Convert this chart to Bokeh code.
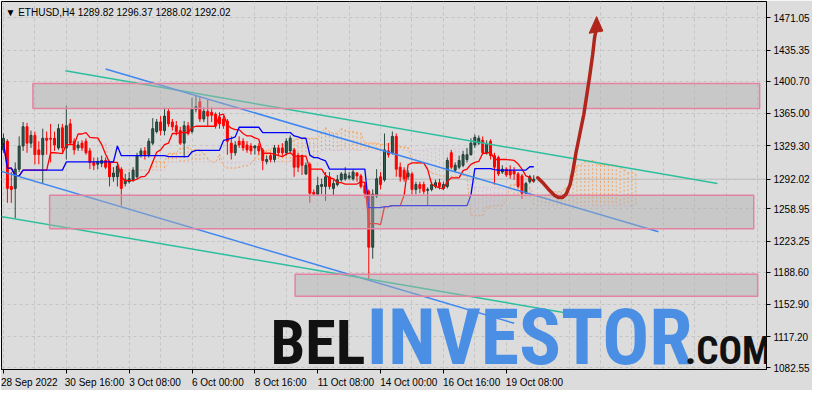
import subprocess
import numpy as np
from bokeh.plotting import figure
from bokeh.models import FixedTicker, Label, Range1d, Span, LinearAxis
from bokeh.core.properties import value
from bokeh.embed import file_html
from bokeh.resources import INLINE

# ---------------- data (ETHUSD H4, bar index 0 = 28 Sep 2022 00:00) ----------------
open_ = [1324.5, 1334.1, 1283.9, 1281.7, 1303.1, 1328.8, 1350.2, 1332.0, 1340.6, 1324.5,
         1319.2, 1337.4, 1337.4, 1337.4, 1326.7, 1349.1, 1326.7, 1353.4, 1334.1, 1326.7,
         1332.0, 1334.1, 1323.4, 1310.6, 1308.5, 1309.5, 1312.7, 1310.6, 1294.6, 1294.6,
         1303.1, 1287.1, 1289.2, 1291.3, 1294.6, 1319.2, 1323.4, 1319.2, 1332.0, 1344.9,
         1355.5, 1345.9, 1367.3, 1355.5, 1351.3, 1345.9, 1332.0, 1351.3, 1344.9, 1369.5,
         1378.0, 1358.8, 1367.3, 1366.2, 1364.1, 1360.9, 1358.8, 1356.6, 1332.0, 1321.3,
         1334.1, 1334.1, 1329.9, 1328.8, 1326.7, 1328.8, 1324.5, 1311.7, 1318.1, 1313.8,
         1326.7, 1326.7, 1321.3, 1323.4, 1324.5, 1318.1, 1318.1, 1297.8, 1308.5, 1277.4,
         1275.3, 1283.9, 1283.9, 1294.6, 1281.7, 1286.0, 1291.3, 1292.4, 1293.5, 1292.4,
         1298.8, 1295.6, 1284.9, 1278.5, 1216.4, 1273.2, 1294.6, 1291.3, 1323.4, 1321.3,
         1339.5, 1305.3, 1302.0, 1294.6, 1297.8, 1280.6, 1286.0, 1286.0, 1279.6, 1280.6,
         1283.9, 1288.1, 1281.7, 1283.9, 1321.3, 1302.0, 1305.3, 1307.4, 1313.8, 1319.2,
         1329.9, 1332.0, 1335.2, 1321.3, 1334.1, 1318.1, 1316.0, 1299.9, 1303.1, 1302.0,
         1301.0, 1297.8, 1295.6, 1276.4, 1289.2, 1289.82]
high = [1342.7, 1336.3, 1299.9, 1310.6, 1339.5, 1355.5, 1354.5, 1345.9, 1344.9, 1334.1,
        1348.1, 1344.9, 1353.4, 1344.9, 1353.4, 1353.4, 1373.7, 1358.8, 1337.4, 1334.1,
        1335.2, 1337.4, 1326.7, 1316.0, 1316.0, 1318.1, 1316.0, 1312.7, 1305.3, 1310.6,
        1305.3, 1297.8, 1299.9, 1305.3, 1321.3, 1326.7, 1327.7, 1337.4, 1359.8, 1358.8,
        1362.0, 1371.6, 1370.5, 1358.8, 1356.6, 1350.2, 1356.6, 1355.5, 1382.3, 1385.5,
        1383.4, 1371.6, 1380.2, 1371.6, 1366.2, 1366.2, 1362.0, 1358.8, 1339.5, 1334.1,
        1339.5, 1337.4, 1334.1, 1332.0, 1329.9, 1332.0, 1326.7, 1318.1, 1321.3, 1329.9,
        1329.9, 1332.0, 1337.4, 1340.6, 1326.7, 1321.3, 1319.2, 1310.6, 1310.6, 1280.6,
        1294.6, 1292.4, 1299.9, 1299.9, 1291.3, 1296.7, 1299.9, 1305.3, 1299.9, 1303.1,
        1299.9, 1297.8, 1289.2, 1280.6, 1280.6, 1303.1, 1299.9, 1342.7, 1332.0, 1344.9,
        1342.7, 1310.6, 1305.3, 1302.0, 1299.9, 1289.2, 1289.2, 1289.2, 1282.8, 1289.2,
        1291.3, 1292.4, 1289.2, 1316.0, 1324.5, 1310.6, 1318.1, 1323.4, 1326.7, 1337.4,
        1341.6, 1340.6, 1339.5, 1335.2, 1336.3, 1321.3, 1318.1, 1307.4, 1305.3, 1307.4,
        1305.3, 1299.9, 1297.8, 1289.2, 1296.7, 1296.37]
low = [1321.3, 1265.7, 1265.7, 1248.5, 1299.9, 1323.4, 1321.3, 1326.7, 1308.5, 1308.5,
       1287.1, 1319.2, 1310.6, 1323.4, 1324.5, 1321.3, 1313.8, 1329.9, 1319.2, 1323.4,
       1323.4, 1319.2, 1303.1, 1302.0, 1303.1, 1305.3, 1303.1, 1283.9, 1289.2, 1283.9,
       1262.5, 1283.9, 1287.1, 1289.2, 1292.4, 1316.0, 1313.8, 1316.0, 1329.9, 1342.7,
       1340.6, 1340.6, 1350.2, 1345.9, 1340.6, 1329.9, 1316.0, 1340.6, 1342.7, 1366.2,
       1355.5, 1355.5, 1351.3, 1355.5, 1348.1, 1348.1, 1348.1, 1319.2, 1313.8, 1318.1,
       1326.7, 1323.4, 1321.3, 1319.2, 1319.2, 1319.2, 1302.0, 1308.5, 1310.6, 1310.6,
       1318.1, 1318.1, 1318.1, 1321.3, 1294.6, 1299.9, 1296.7, 1296.7, 1265.7, 1273.2,
       1273.2, 1275.3, 1267.8, 1280.6, 1273.2, 1283.9, 1289.2, 1290.3, 1291.3, 1290.3,
       1289.2, 1281.7, 1271.0, 1180.1, 1203.6, 1271.0, 1280.6, 1289.2, 1316.0, 1319.2,
       1294.6, 1289.2, 1289.2, 1291.3, 1275.3, 1275.3, 1276.4, 1275.3, 1262.5, 1278.5,
       1281.7, 1280.6, 1279.6, 1281.7, 1303.1, 1299.9, 1303.1, 1305.3, 1310.6, 1318.1,
       1326.7, 1329.9, 1319.2, 1319.2, 1313.8, 1286.0, 1295.6, 1297.8, 1294.6, 1292.4,
       1291.3, 1281.7, 1269.9, 1275.3, 1287.1, 1288.02]
close = [1337.4, 1281.7, 1280.6, 1303.1, 1328.8, 1350.2, 1332.0, 1340.6, 1319.2, 1319.2,
         1337.4, 1335.2, 1336.3, 1329.9, 1348.1, 1326.7, 1351.3, 1332.0, 1324.5, 1329.9,
         1326.7, 1321.3, 1310.6, 1307.4, 1311.7, 1312.7, 1305.3, 1294.6, 1298.8, 1306.3,
         1281.7, 1291.3, 1292.4, 1302.0, 1318.1, 1323.4, 1319.2, 1334.1, 1348.1, 1355.5,
         1345.9, 1362.0, 1353.4, 1350.2, 1344.9, 1332.0, 1351.3, 1342.7, 1370.5, 1372.7,
         1358.8, 1367.3, 1362.0, 1363.0, 1351.3, 1353.4, 1351.3, 1334.1, 1321.3, 1329.9,
         1329.9, 1326.7, 1324.5, 1323.4, 1328.8, 1323.4, 1312.7, 1313.8, 1313.8, 1326.7,
         1321.3, 1321.3, 1334.1, 1337.4, 1305.3, 1305.3, 1307.4, 1307.4, 1276.4, 1275.3,
         1284.9, 1286.0, 1294.6, 1283.9, 1287.1, 1291.3, 1297.8, 1297.8, 1295.6, 1299.9,
         1295.6, 1283.9, 1276.4, 1216.4, 1275.3, 1292.4, 1286.0, 1324.5, 1319.2, 1339.5,
         1303.1, 1294.6, 1292.4, 1298.8, 1280.6, 1286.0, 1281.7, 1278.5, 1280.6, 1286.0,
         1288.1, 1283.9, 1286.0, 1312.7, 1305.3, 1307.4, 1312.7, 1319.2, 1319.2, 1332.0,
         1338.4, 1337.4, 1321.3, 1330.9, 1318.1, 1305.3, 1297.8, 1303.1, 1296.7, 1296.7,
         1297.8, 1283.9, 1276.4, 1287.1, 1294.6, 1292.02]

xtick_bars = [0, 16, 32, 48, 64, 80, 96, 112, 128]
xtick_labels = ["28 Sep 2022", "30 Sep 16:00", "3 Oct 08:00", "6 Oct 00:00", "8 Oct 16:00",
                "11 Oct 08:00", "14 Oct 00:00", "16 Oct 16:00", "19 Oct 08:00"]
ytick_values = [1082.55, 1117.20, 1152.90, 1188.60, 1223.25, 1258.95, 1292.02,
                1329.30, 1365.00, 1400.70, 1435.35, 1471.05]
ytick_labels = ["1082.55", "1117.20", "1152.90", "1188.60", "1223.25", "1258.95", "1292.02",
                "1329.30", "1365.00", "1400.70", "1435.35", "1471.05"]

# support / resistance zones (bar index, price)
zone_left = [7.5, 11.75, 74.25]
zone_right = [192.5, 191.0, 192.0]
zone_top = [1398.3, 1274.2, 1186.5]
zone_bottom = [1370.5, 1236.8, 1161.9]

# channel trend lines (bar index, price)
trend_x0 = [15.75, 26.0, -0.75, -0.75]
trend_y0 = [1412.3, 1414.4, 1301.0, 1250.7]
trend_x1 = [181.75, 166.75, 130.0, 143.0]
trend_y1 = [1287.1, 1233.6, 1131.9, 1143.7]
trend_colors = ["#2cbf9d", "#3e86f0", "#3e86f0", "#2cbf9d"]

# forecast arrow path (bar index, price)
arrow_x = [136.0, 137.5, 139.0, 140.25, 141.25, 142.25, 143.25, 144.25, 145.0, 145.75,
           146.75, 147.75, 148.5, 149.25, 150.0, 150.5, 150.9]
arrow_y = [1293.5, 1287.1, 1279.6, 1274.2, 1271.5, 1271.5, 1275.3, 1286.0, 1302.0, 1321.3,
           1342.7, 1364.1, 1385.5, 1406.9, 1430.4, 1449.7, 1458.0]
arrow_head_x = [151.0, 149.1, 152.6]
arrow_head_y = [1472.5, 1454.0, 1456.5]

# watermark: text, left (bar index), target width in bars, colour
wm_text = ["BEL", "INVESTOR", ".COM"]
wm_x = [68.0, 92.5, 173.5]
wm_w = [23.5, 80.5, 21.0]
wm_em = [1.74, 4.74, 2.48]          # width in em for a regular bold grotesque
wm_color = ["#111111", "#4a8fe3", "#111111"]
wm_baseline = 1085.9

# ---------------- pick the narrowest installed bold face for the watermark ----------------
try:
    fc = subprocess.run(["fc-list", ":", "family"], capture_output=True, text=True, timeout=10).stdout
except Exception:
    fc = ""
families = set()
for line in fc.splitlines():
    for f in line.split(","):
        families.add(f.strip())
font_choices = [("Noto Sans ExtraCondensed", 0.64, 0.714), ("Noto Sans Condensed", 0.82, 0.714),
                ("Roboto Condensed", 0.86, 0.711), ("DejaVu Sans Condensed", 1.08, 0.729),
                ("Liberation Sans Narrow", 0.88, 0.716), ("Roboto", 1.0, 0.711)]
wm_font, wm_factor, wm_cap = "Roboto", 1.0, 0.711
for name, fac, cap in font_choices:
    if name in families:
        wm_font, wm_factor, wm_cap = name, fac, cap
        break

# ---------------- derived indicator (Ichimoku 9/26/52) ----------------
o = np.array(open_); h = np.array(high); l = np.array(low); c = np.array(close)
n = len(c)
idx = np.arange(n)

def mid(period, i):
    lo = max(0, i - period + 1)
    return (h[lo:i + 1].max() + l[lo:i + 1].min()) / 2.0

tenkan = np.array([mid(9, i) for i in range(n)])
kijun = np.array([mid(26, i) for i in range(n)])
span_a = (tenkan + kijun) / 2.0
span_b = np.array([mid(52, i) for i in range(n)])
cx = idx + 26

BG = "#dcdcdc"
GRID = "#c3c3c3"
x_lo, x_hi = -0.5, 194.25
y_lo, y_hi = 1080.6, 1489.3
W, H = 812, 390
frame_w = W - 1 - 46
frame_h = 370.0
px_per_bar = frame_w / (x_hi - x_lo)
price_per_px = (y_hi - y_lo) / frame_h

p = figure(width=W, height=H, x_range=Range1d(x_lo, x_hi), y_range=Range1d(y_lo, y_hi),
           y_axis_location="right", output_backend="svg", toolbar_location=None, tools="",
           min_border_left=1, min_border_top=1, min_border_right=46, min_border_bottom=8)
p.background_fill_color = BG
p.border_fill_color = BG
p.outline_line_color = "black"
p.outline_line_width = 1

ya = p.yaxis[0]
ya.ticker = FixedTicker(ticks=ytick_values)
ya.major_label_overrides = dict(zip(ytick_values, ytick_labels))
ya.major_label_text_font = "Liberation Sans"
ya.major_label_text_font_size = "10px"
ya.major_label_text_color = "black"
ya.major_label_standoff = 3
ya.axis_line_color = "black"
ya.major_tick_line_color = "black"
ya.major_tick_out = 4
ya.major_tick_in = 0
ya.minor_tick_line_color = None

# tick-mark axis (no labels)
xa = p.xaxis[0]
xa.ticker = FixedTicker(ticks=xtick_bars)
xa.major_label_overrides = {t: "" for t in xtick_bars}
xa.major_label_text_font_size = "1px"
xa.major_label_standoff = 0
xa.axis_line_color = "black"
xa.major_tick_line_color = "black"
xa.major_tick_out = 4
xa.major_tick_in = 0
xa.minor_tick_line_color = None

# label axis: labels start at the tick, MT4 style
lab_pos = [t + (4.7 * len(s) / 2.0) / px_per_bar for t, s in zip(xtick_bars, xtick_labels)]
xb = LinearAxis(ticker=FixedTicker(ticks=lab_pos),
                major_label_overrides=dict(zip(lab_pos, xtick_labels)),
                axis_line_color=None, major_tick_line_color=None, minor_tick_line_color=None,
                major_label_standoff=-3, major_label_text_font="Liberation Sans",
                major_label_text_font_size="10px", major_label_text_color="black")
p.add_layout(xb, "below")

p.xgrid.ticker = FixedTicker(ticks=list(range(0, 195, 8)))
for g in (p.xgrid[0], p.ygrid[0]):
    g.grid_line_color = GRID
    g.grid_line_dash = "3 3"
    g.grid_line_width = 1

# Ichimoku cloud (histogram of dotted verticals + span lines)
up = span_a >= span_b
dn = ~up
p.segment(x0=cx[up], y0=span_a[up], x1=cx[up], y1=span_b[up], line_color="#f4a460",
          line_dash="2 2", line_width=1)
p.segment(x0=cx[dn], y0=span_a[dn], x1=cx[dn], y1=span_b[dn], line_color="#d8bfd8",
          line_dash="2 2", line_width=1)
p.line(cx, span_a, line_color="#f4a460", line_dash="2 2", line_width=1)
p.line(cx, span_b, line_color="#d8bfd8", line_dash="2 2", line_width=1)

# bid line
p.add_layout(Span(location=c[-1], dimension="width", line_color="#bdbdbd", line_width=1,
                  level="underlay"))

# candles
bull = c >= o
bear = ~bull
p.segment(x0=idx[bull], y0=l[bull], x1=idx[bull], y1=h[bull], line_color="#2b4a40", line_width=1)
p.segment(x0=idx[bear], y0=l[bear], x1=idx[bear], y1=h[bear], line_color="#ff0000", line_width=1)
p.vbar(x=idx[bull], width=0.5, top=c[bull], bottom=o[bull], fill_color="#2f5e50",
       line_color="#1f3a32", line_width=1)
p.vbar(x=idx[bear], width=0.5, top=o[bear], bottom=c[bear], fill_color="#ff0000",
       line_color="#ff0000", line_width=1)

# tenkan / kijun
p.line(idx, tenkan, line_color="#ff0000", line_width=1.3)
p.line(idx, kijun, line_color="#0000ff", line_width=1.3)

# trend lines
p.segment(x0=trend_x0, y0=trend_y0, x1=trend_x1, y1=trend_y1, line_color=trend_colors,
          line_width=1.5)

# zones
p.quad(left=zone_left, right=zone_right, top=zone_top, bottom=zone_bottom,
       fill_color="#b0b0b0", fill_alpha=0.45, line_color="#e4829f", line_width=1.5)

# forecast arrow
p.line(arrow_x, arrow_y, line_color="#b0261c", line_width=3.5, line_join="round", line_cap="round")
p.patch(arrow_head_x, arrow_head_y, fill_color="#b0261c", line_color="#b0261c", line_width=1)

# watermark (anchored at the vertical middle of the capitals)
for t, x, wb, em, col in zip(wm_text, wm_x, wm_w, wm_em, wm_color):
    size = wb * px_per_bar / (em * wm_factor)
    cap_px = wm_cap * size
    ymid = wm_baseline + (cap_px / 2.0) * price_per_px
    p.text(x=[x], y=[ymid], text=[t], text_font=value(wm_font), text_font_style="bold",
           text_font_size="%dpx" % round(size), text_color=col, text_baseline="middle",
           text_align="left")

# title
title = "\u25bc ETHUSD,H4 %.2f %.2f %.2f %.2f" % (o[-1], h[-1], l[-1], c[-1])
p.add_layout(Label(x=x_lo, y=y_hi, text=title, text_font="Liberation Sans", text_font_size="10px",
                   text_color="black", text_baseline="top", text_align="left",
                   x_offset=4, y_offset=-5))

open("out.html", "w").write(file_html(p, INLINE))
